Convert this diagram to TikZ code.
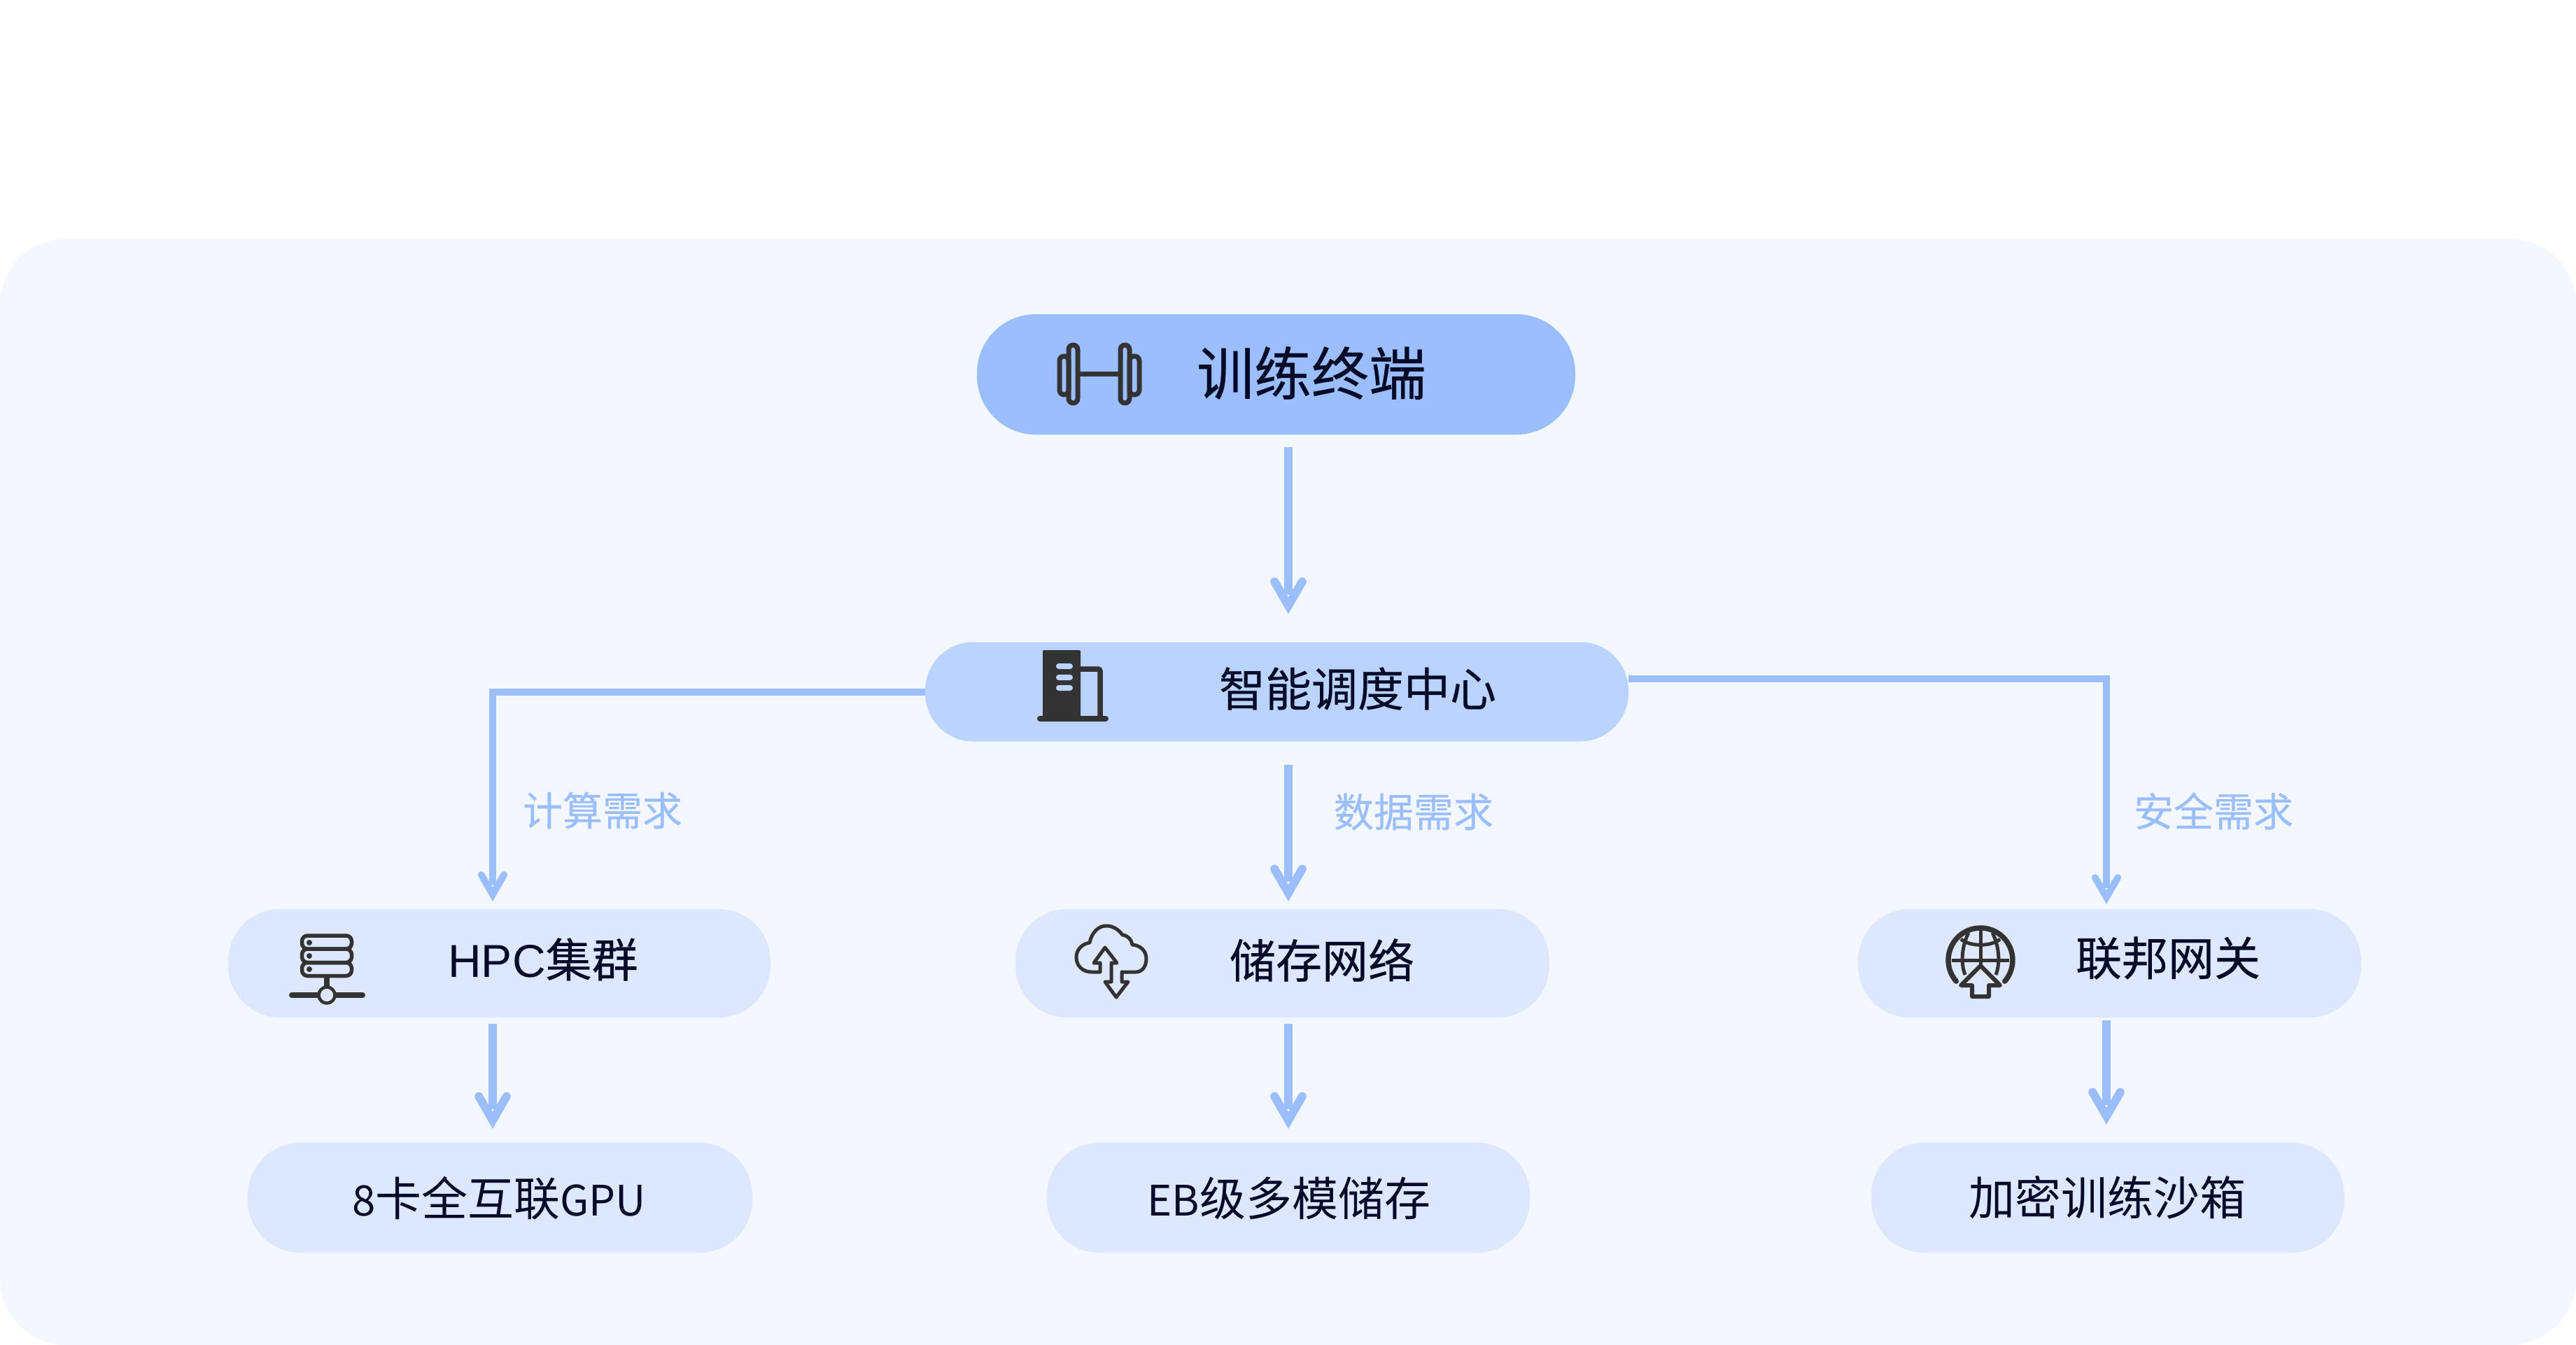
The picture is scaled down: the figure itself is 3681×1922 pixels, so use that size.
\documentclass[tikz,border=0pt]{standalone}
\usepackage{fontspec}
\setmainfont{Noto Sans CJK SC}
\newfontfamily\medfont[FakeBold=0.4]{Noto Sans CJK SC}
\newfontfamily\hpcfont{Liberation Sans}
\usetikzlibrary{arrows.meta,calc}
\definecolor{panelc}{HTML}{F3F7FF}
\definecolor{topc}{HTML}{9BBEFF}
\definecolor{midc}{HTML}{BBD3FF}
\definecolor{lowc}{HTML}{DDE8FF}
\definecolor{inkc}{HTML}{050A26}
\definecolor{iconc}{HTML}{333333}
\newcommand\mkwedge[4]{%
\pgfdeclarearrow{name=#1,
  setup code={\pgfarrowssettipend{0pt}\pgfarrowssetlineend{#3}\pgfarrowssetvisualbackend{#4}\pgfarrowssetbackend{#4}},
  drawing code={%
    \pgftransformscale{#2}%
    \pgfpathmoveto{\pgfqpoint{0pt}{0pt}}%
    \pgfpathlineto{\pgfqpoint{-43.3pt}{25pt}}%
    \pgfpathlineto{\pgfqpoint{-49.3pt}{14.6pt}}%
    \pgfpathlineto{\pgfqpoint{-24pt}{0pt}}%
    \pgfpathlineto{\pgfqpoint{-49.3pt}{-14.6pt}}%
    \pgfpathlineto{\pgfqpoint{-43.3pt}{-25pt}}%
    \pgfpathclose
    \pgfpathcircle{\pgfqpoint{-46.3pt}{19.8pt}}{6pt}%
    \pgfpathcircle{\pgfqpoint{-46.3pt}{-19.8pt}}{6pt}%
    \pgfusepathqfill}}}
\mkwedge{WedgeBig}{1}{-28pt}{-52pt}
\mkwedge{WedgeSmall}{0.82}{-23pt}{-42.6pt}
\tikzset{
  boxn/.style={shape=rectangle,inner sep=0pt,outer sep=0pt,minimum width=#1},
  topbox/.style={boxn=855pt,minimum height=172pt,rounded corners=84pt,fill=topc},
  midbox/.style={boxn=1005pt,minimum height=142pt,rounded corners=69pt,fill=midc},
  lowbox/.style={minimum height=155pt,rounded corners=74pt,fill=lowc,shape=rectangle,inner sep=0pt,outer sep=0pt},
  leafbox/.style={minimum height=157pt,rounded corners=75pt,fill=lowc,shape=rectangle,inner sep=0pt,outer sep=0pt},
  lab/.style={text=inkc,inner sep=0pt,font=\medfont\fontsize{66pt}{70pt}\selectfont},
  leaflab/.style={text=inkc,inner sep=0pt,font=\fontsize{66pt}{70pt}\selectfont},
  toplab/.style={text=inkc,inner sep=0pt,font=\medfont\fontsize{82pt}{86pt}\selectfont},
  edgelab/.style={text=topc,inner sep=0pt,font=\medfont\fontsize{57pt}{60pt}\selectfont},
  arrowline/.style={draw=topc,line width=11.5pt,-{WedgeBig[fill=topc]}},
  elbowline/.style={draw=topc,line width=10pt,-{WedgeSmall[fill=topc]}},
  iconline/.style={draw=iconc,line width=#1,line join=round,line cap=round},
}
\newcommand\ltn[1]{{\fontsize{60pt}{70pt}\selectfont #1}}
\begin{document}
\begin{tikzpicture}[x=1pt,y=-1pt]
\useasboundingbox (0,0) rectangle (3681,1922);
\fill[white] (0,0) rectangle (3681,1922);
\fill[panelc,rounded corners=95pt] (0,341) rectangle (3681,1922);

\coordinate (cola) at (704,0);
\coordinate (colb) at (1841,0);
\coordinate (colc) at (3010,0);

% boxes
\node[topbox] (tr) at (1823.5,535) {};
\node[midbox] (cm) at (1824.5,988.5) {};
\node[lowbox,minimum width=775pt] (hpc) at (713.5,1376.5) {};
\node[lowbox,minimum width=763pt] (sto) at (1832.5,1376.5) {};
\node[lowbox,minimum width=719pt] (fed) at (3014.5,1376.5) {};
\node[leafbox,minimum width=721pt] (gpu) at (714.5,1711.5) {};
\node[leafbox,minimum width=690pt] (eb) at (1841,1711.5) {};
\node[leafbox,minimum width=676pt] (box) at (3012,1711.5) {};

% labels
\node[toplab] (trt) at (1874,533) {训练终端};
\node[lab] (cmt) at (1940,984) {智能调度中心};
\node[lab] (hpct) at (776,1371) {{\hpcfont HPC}集群};
\node[lab] (stot) at (1889,1372) {储存网络};
\node[lab] (fedt) at (3098,1369) {联邦网关};
\node[leaflab] (gput) at (713,1712) {\ltn{8}卡全互联\ltn{GPU}};
\node[leaflab] (ebt) at (1842,1712) {\ltn{EB}级多模储存};
\node[leaflab] (boxt) at (3011,1711) {加密训练沙箱};
\node[edgelab] (e1) at (861,1158) {计算需求};
\node[edgelab] (e2) at (2020,1160) {数据需求};
\node[edgelab] (e3) at (3163,1159) {安全需求};

% connectors
\draw[arrowline,shorten <=18pt,shorten >=40pt] (tr.south -| colb) -- (cm.north -| colb);
\draw[arrowline,shorten <=33pt,shorten >=11pt] (cm.south -| colb) -- (sto.north -| colb);
\draw[elbowline,shorten >=11pt,line join=miter] (cm.west) -| (hpc.north -| cola);
\draw[elbowline,shorten >=7pt,line join=miter] ([yshift=18.5pt]cm.east) -| (fed.north -| colc);
\draw[arrowline,shorten <=9pt,shorten >=20pt] (hpc.south -| cola) -- (gpu.north -| cola);
\draw[arrowline,shorten <=9pt,shorten >=20pt] (sto.south -| colb) -- (eb.north -| colb);
\draw[arrowline,shorten <=4pt,shorten >=26pt] (fed.south -| colc) -- (box.north -| colc);

% dumbbell icon
\begin{scope}[iconline=7pt]
\draw[rounded corners=6.5pt] (1527,493) rectangle (1540,576);
\draw[rounded corners=6.5pt] (1514,509) rectangle (1527,564);
\draw[rounded corners=6.5pt] (1601,493) rectangle (1614,576);
\draw[rounded corners=6.5pt] (1614,509) rectangle (1628,564);
\draw[line cap=butt] (1543,534) -- (1598,534);
\end{scope}

% building icon
\fill[iconc,rounded corners=2pt] (1490,929) rectangle (1544,1027);
\fill[iconc,rounded corners=4pt] (1482,1023) rectangle (1584,1031);
\draw[iconc,line width=7.5pt,rounded corners=3pt] (1544,956) -- (1572,956) -- (1572,1027);
\fill[midc,rounded corners=4pt] (1509,948) rectangle (1533,956);
\fill[midc,rounded corners=4pt] (1509,964) rectangle (1533,972);
\fill[midc,rounded corners=4pt] (1509,979) rectangle (1533,987);

% server icon
\begin{scope}[iconline=5.5pt]
\draw[rounded corners=8pt] (431.5,1337) rectangle (502.5,1356);
\draw[rounded corners=8pt] (431.5,1356) rectangle (502.5,1375.5);
\draw[rounded corners=8pt] (431.5,1375.5) rectangle (502.5,1394.5);
\end{scope}
\fill[iconc] (442,1347) circle[radius=4pt] (442,1366) circle[radius=4pt] (442,1385) circle[radius=4pt];
\draw[iconc,line width=8pt] (467,1394) -- (467,1412);
\draw[iconline=8pt] (417,1422) -- (518,1422);
\draw[draw=iconc,fill=lowc,line width=4.5pt] (467,1422) circle[radius=11.5pt];

% cloud icon
\draw[iconline=5pt] (1572,1389) -- (1560,1389)
  .. controls (1547,1389) and (1538,1380) .. (1538,1368)
  .. controls (1538,1357) and (1546,1349) .. (1557,1347)
  .. controls (1560,1333) and (1569,1323) .. (1581,1323)
  .. controls (1591,1323) and (1599,1329) .. (1604,1336)
  .. controls (1612,1337) and (1617,1343) .. (1618,1350)
  .. controls (1630,1351) and (1638,1359) .. (1638,1370)
  .. controls (1638,1381) and (1632,1389) .. (1623,1389)
  -- (1603,1389) -- (1603,1403) -- (1612,1403) -- (1595,1425) -- (1579,1403) -- (1588,1403)
  -- (1588,1376) -- (1596,1376) -- (1579,1354) -- (1563,1376) -- (1572,1376) -- cycle;

% globe icon
\draw[iconline=7.5pt] plot[domain=139:401,samples=50,smooth] ({2830+46*cos(\x)},{1372+46*sin(\x)});
\begin{scope}[iconline=5pt,line cap=butt]
\draw (2830,1328) -- (2830,1378);
\draw (2789,1372) -- (2871,1372);
\draw (2813,1333) .. controls (2804,1350) and (2801,1375) .. (2808,1393);
\draw (2847,1333) .. controls (2856,1350) and (2859,1375) .. (2852,1393);
\draw (2802,1342) .. controls (2815,1353) and (2845,1353) .. (2858,1342);
\end{scope}
\draw[iconline=6pt] (2830,1380) -- (2802,1408) -- (2818,1408) -- (2818,1424) -- (2842,1424) -- (2842,1408) -- (2858,1408) -- cycle;
\end{tikzpicture}
\end{document}
